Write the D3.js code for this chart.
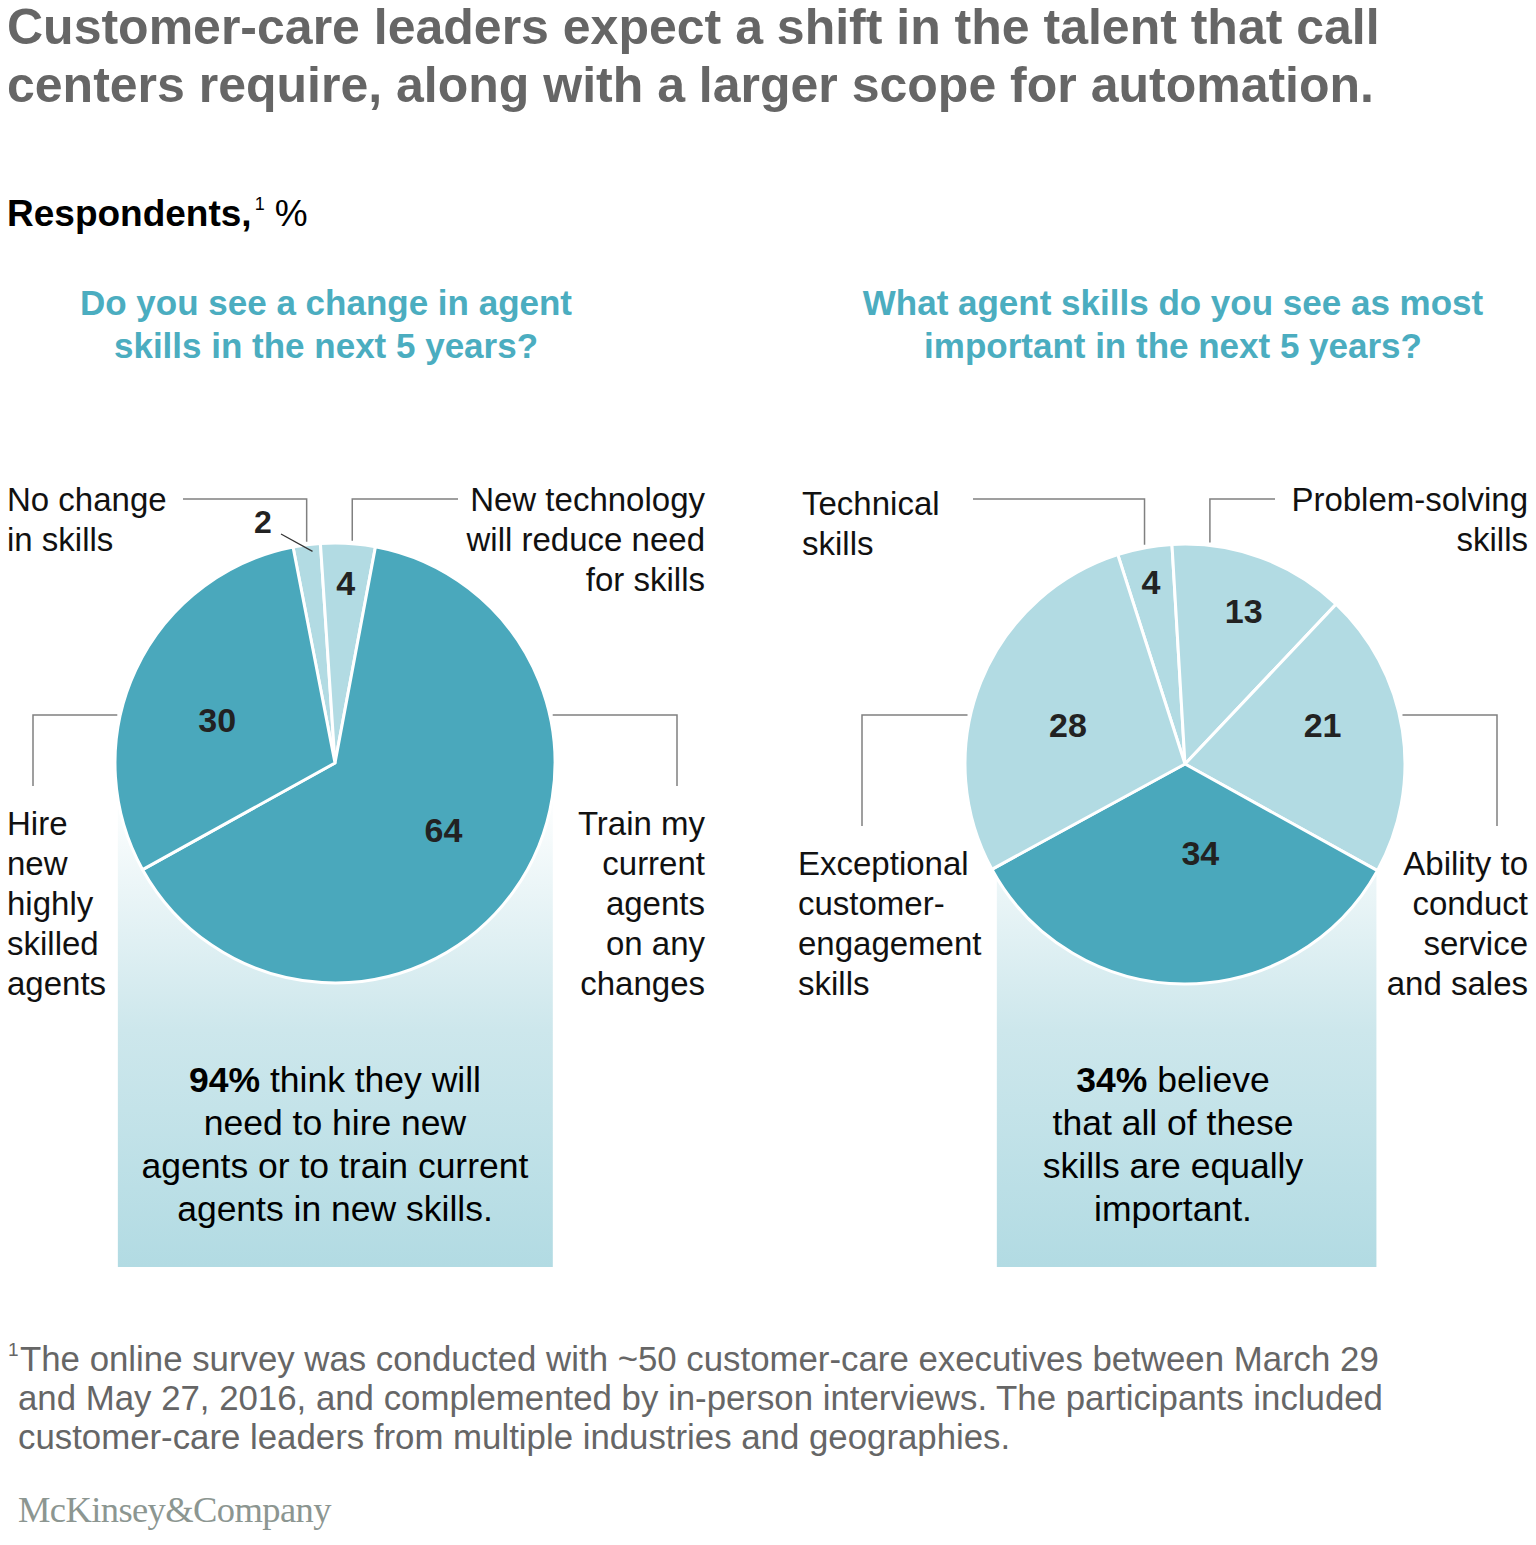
<!DOCTYPE html>
<html>
<head>
<meta charset="utf-8">
<script src="https://cdn.jsdelivr.net/npm/d3@7"></script>
<style>
  body { margin: 0; background: #fff; }
  text { font-family: "Liberation Sans", Arial, sans-serif; }
  text.logo { font-family: "Liberation Serif", "DejaVu Serif", serif; }
</style>
</head>
<body>
<svg id="chart" width="1536" height="1545"></svg>
<script>
// data
const leftCats = ['No change in skills', 'New technology will reduce need for skills', 'Train my current agents on any changes', 'Hire new highly skilled agents'];
const leftValues = [2, 4, 64, 30];
const leftLabelLines = [['No change', 'in skills'], ['New technology', 'will reduce need', 'for skills'], ['Train my', 'current', 'agents', 'on any', 'changes'], ['Hire', 'new', 'highly', 'skilled', 'agents']];

const rightCats = ['Technical skills', 'Problem-solving skills', 'Ability to conduct service and sales', 'All equally important', 'Exceptional customer-engagement skills'];
const rightValues = [4, 13, 21, 34, 28];
const rightLabelLines = [['Technical', 'skills'], ['Problem-solving', 'skills'], ['Ability to', 'conduct', 'service', 'and sales'], [], ['Exceptional', 'customer-', 'engagement', 'skills']];

const titleLines = ['Customer-care leaders expect a shift in the talent that call', 'centers require, along with a larger scope for automation.'];
const leftQuestion = ['Do you see a change in agent', 'skills in the next 5 years?'];
const rightQuestion = ['What agent skills do you see as most', 'important in the next 5 years?'];
const leftSummary = [['94%', ' think they will'], ['', 'need to hire new'], ['', 'agents or to train current'], ['', 'agents in new skills.']];
const rightSummary = [['34%', ' believe'], ['', 'that all of these'], ['', 'skills are equally'], ['', 'important.']];
const footnote = ['The online survey was conducted with ~50 customer-care executives between March 29', 'and May 27, 2016, and complemented by in-person interviews. The participants included', 'customer-care leaders from multiple industries and geographies.'];

const dark = '#4aa8bc', light = '#b2dbe3', lineCol = '#808080';
const svg = d3.select('#chart');
const R = 220;
const rad = d => d * Math.PI / 180;

// gradient for callout boxes
const grad = svg.append('defs').append('linearGradient')
    .attr('id', 'boxGrad').attr('x1', 0).attr('x2', 0).attr('y1', 0).attr('y2', 1);
grad.append('stop').attr('offset', 0).attr('stop-color', '#ffffff');
grad.append('stop').attr('offset', 0.5).attr('stop-color', '#cde7ec');
grad.append('stop').attr('offset', 1).attr('stop-color', light);

// title
svg.append('g').selectAll('text').data(titleLines).enter().append('text')
    .attr('x', 7).attr('y', (d, i) => 44 + i * 58)
    .attr('font-size', 50).attr('font-weight', 'bold').attr('fill', '#666')
    .text(d => d);

const resp = svg.append('text').attr('x', 7).attr('y', 226).attr('font-size', 37);
resp.append('tspan').attr('font-weight', 'bold').attr('fill', '#000').text('Respondents,');
resp.append('tspan').attr('font-size', 18).attr('dy', -16).attr('dx', 3).text('1');
resp.append('tspan').attr('dy', 16).attr('dx', 10).text('%');

function question(lines, cx) {
    svg.append('g').selectAll('text').data(lines).enter().append('text')
        .attr('x', cx).attr('y', (d, i) => 315 + i * 43)
        .attr('text-anchor', 'middle').attr('font-size', 35).attr('font-weight', 'bold')
        .attr('fill', '#4badc0').text(d => d);
}
question(leftQuestion, 326);
question(rightQuestion, 1173);

function pie(cfg) {
    const g = svg.append('g').attr('transform', `translate(${cfg.cx},${cfg.cy})`);
    const pieGen = d3.pie().sort(null).value(d => d)
        .startAngle(rad(cfg.start)).endAngle(rad(cfg.start + 360));
    const arcs = pieGen(cfg.values);
    const arc = d3.arc().innerRadius(0).outerRadius(R);

    // callout box behind the pie
    const xs = cfg.boxX(arcs);
    g.append('rect')
        .attr('x', xs[0]).attr('width', xs[1] - xs[0])
        .attr('y', 30).attr('height', 1267 - cfg.cy - 30)
        .attr('fill', 'url(#boxGrad)');

    g.selectAll('path').data(arcs).enter().append('path')
        .attr('d', arc)
        .attr('fill', (d, i) => cfg.colors[i])
        .attr('stroke', '#fff').attr('stroke-width', 3).attr('stroke-linejoin', 'round');

    // value labels
    g.selectAll('.val').data(arcs.filter((d, i) => cfg.valPos[i])).enter().append('text')
        .attr('class', 'val')
        .attr('transform', d => {
            const p = cfg.valPos[d.index];
            const a = (d.startAngle + d.endAngle) / 2 + rad(p[1]);
            return `translate(${R * p[0] * Math.sin(a)},${-R * p[0] * Math.cos(a) + 12})`;
        })
        .attr('text-anchor', 'middle').attr('font-size', 34).attr('font-weight', 'bold')
        .attr('fill', '#222').text(d => d.value);

    // leader lines
    cfg.leaders.forEach(L => {
        if (!L) return;
        let pts;
        if (L.type === 'top') {
            const a = rad(L.angle);
            const p = [R * Math.sin(a), -R * Math.cos(a)];
            pts = [[p[0], p[1] - 3], [p[0], L.y - cfg.cy], [L.x - cfg.cx, L.y - cfg.cy]];
        } else {
            const dy = L.y - cfg.cy;
            const px = L.side * Math.sqrt(R * R - dy * dy);
            pts = [[px + L.side * 3, dy], [L.x - cfg.cx, dy], [L.x - cfg.cx, L.y2 - cfg.cy]];
        }
        g.append('path').attr('d', d3.line()(pts))
            .attr('fill', 'none').attr('stroke', lineCol).attr('stroke-width', 1.5);
    });

    // category labels
    cfg.labels.forEach((lines, i) => {
        const t = cfg.labelPos[i];
        if (!t) return;
        svg.append('g').selectAll('text').data(lines).enter().append('text')
            .attr('x', t[0]).attr('y', (d, j) => t[1] + j * 40)
            .attr('text-anchor', t[2]).attr('font-size', 33).attr('fill', '#111')
            .text(d => d);
    });

    // summary text
    svg.append('g').selectAll('text').data(cfg.summary).enter().append('text')
        .attr('x', cfg.summaryX).attr('y', (d, i) => 1092 + i * 43)
        .attr('text-anchor', 'middle').attr('font-size', 35.5).attr('fill', '#000')
        .each(function (d) {
            const t = d3.select(this);
            if (d[0]) t.append('tspan').attr('font-weight', 'bold').text(d[0]);
            t.append('tspan').text(d[1]);
        });
    return arcs;
}

// left pie
const leftArcs = pie({
    cx: 335, cy: 763, start: -11, values: leftValues,
    colors: [light, light, dark, dark],
    boxX: () => [-R * 0.987, R * 0.99],
    valPos: [null, [0.82, 0], [0.58, -4], [0.57, -5]],
    leaders: [
        {type: 'top', angle: -7.4, y: 499, x: 183},
        {type: 'top', angle: 4.5, y: 499, x: 458},
        {type: 'side', side: 1, y: 715, x: 677, y2: 786},
        {type: 'side', side: -1, y: 715, x: 33, y2: 786}
    ],
    labels: leftLabelLines,
    labelPos: [[7, 511, 'start'], [705, 511, 'end'], [705, 835, 'end'], [7, 835, 'start']],
    summary: leftSummary, summaryX: 335
});

// the "2" sits outside its slice with a short pointer
{
    const d = leftArcs[0];
    const a = (d.startAngle + d.endAngle) / 2;
    const g = svg.append('g').attr('transform', 'translate(335,763)');
    g.append('line')
        .attr('x1', -54).attr('y1', -229)
        .attr('x2', R * 0.97 * Math.sin(a) + 5).attr('y2', -R * 0.97 * Math.cos(a))
        .attr('stroke', '#333').attr('stroke-width', 1.2);
    g.append('text').attr('x', -72).attr('y', -230)
        .attr('text-anchor', 'middle').attr('font-size', 32).attr('font-weight', 'bold')
        .attr('fill', '#222').text(d.value);
}

// right pie: box spans the dark "all equal" slice
pie({
    cx: 1185, cy: 764, start: -17.8, values: rightValues,
    colors: [light, light, light, dark, light],
    boxX: arcs => [R * Math.sin(arcs[3].endAngle) + 5, R * Math.sin(arcs[3].startAngle) - 1],
    valPos: [[0.84, 0], [0.745, 1], [0.65, -7], [0.41, -10], [0.56, -3.5]],
    leaders: [
        {type: 'top', angle: -10.6, y: 499, x: 973},
        {type: 'top', angle: 6.5, y: 499, x: 1275},
        {type: 'side', side: 1, y: 715, x: 1497, y2: 826},
        null,
        {type: 'side', side: -1, y: 715, x: 862, y2: 826}
    ],
    labels: rightLabelLines,
    labelPos: [[802, 515, 'start'], [1528, 511, 'end'], [1528, 875, 'end'], null, [798, 875, 'start']],
    summary: rightSummary, summaryX: 1173
});

// footnote
const fn = svg.append('g').attr('font-size', 34.8).attr('fill', '#666');
fn.append('text').attr('x', 8).attr('y', 1356).attr('font-size', 19).text('1');
fn.selectAll('.fl').data(footnote).enter().append('text')
    .attr('class', 'fl').attr('x', (d, i) => i ? 18 : 20).attr('y', (d, i) => 1371 + i * 39)
    .text(d => d);

svg.append('text').attr('class', 'logo').attr('x', 18).attr('y', 1522)
    .attr('font-size', 36.5).attr('fill', '#8c9691').attr('letter-spacing', -0.6)
    .text('McKinsey&Company');
</script>
</body>
</html>
